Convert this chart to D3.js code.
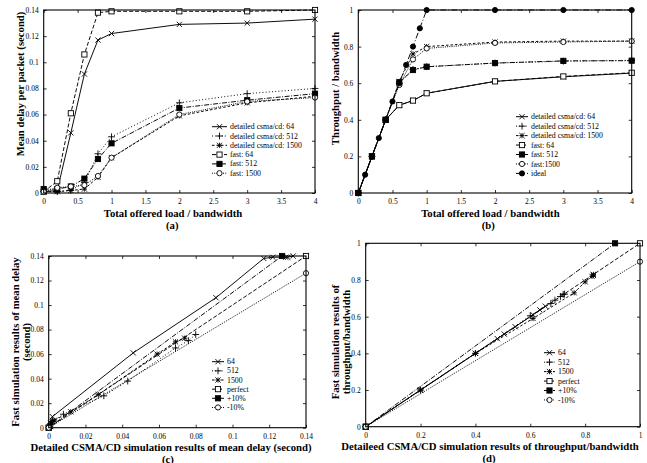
<!DOCTYPE html>
<html>
<head>
<meta charset="utf-8">
<script src="https://cdn.jsdelivr.net/npm/d3@7"></script>
<style>
  body { margin: 0; background: #fff; }
  svg text { font-family: "Liberation Serif", "Times New Roman", serif; fill: #000; }
  .title { font-size: 10.7px; font-weight: bold; }
  .leg { font-size: 7.8px; }
</style>
</head>
<body>
<div id="container"></div>
<script>
/* DATA */
const loadA = [0, 0.2, 0.4, 0.6, 0.8, 1, 2, 3, 4];
const delayDet64 = [0.001, 0.002, 0.046, 0.091, 0.117, 0.122, 0.129, 0.130, 0.133];
const delayDet512 = [0.001, 0.001, 0.002, 0.008, 0.030, 0.043, 0.069, 0.076, 0.080];
const delayDet1500 = [0.001, 0.001, 0.002, 0.003, 0.012, 0.027, 0.059, 0.069, 0.074];
const delayFast64 = [0.001, 0.009, 0.061, 0.106, 0.138, 0.139, 0.139, 0.139, 0.140];
const delayFast512 = [0.003, 0.003, 0.005, 0.011, 0.026, 0.038, 0.065, 0.071, 0.076];
const delayFast1500 = [0.001, 0.004, 0.005, 0.006, 0.013, 0.027, 0.060, 0.070, 0.073];

const loadB = [0, 0.2, 0.4, 0.6, 0.8, 1, 2, 3, 4];
const thrDet64 = [0, 0.2, 0.4, 0.48, 0.505, 0.545, 0.61, 0.635, 0.655];
const thrDet512 = [0, 0.2, 0.4, 0.60, 0.675, 0.69, 0.71, 0.72, 0.725];
const thrDet1500 = [0, 0.2, 0.4, 0.61, 0.76, 0.80, 0.825, 0.83, 0.83];
const thrFast64 = [0, 0.2, 0.4, 0.48, 0.505, 0.545, 0.61, 0.637, 0.657];
const thrFast512 = [0, 0.2, 0.4, 0.605, 0.672, 0.69, 0.71, 0.722, 0.723];
const thrFast1500 = [0, 0.2, 0.4, 0.59, 0.73, 0.79, 0.82, 0.825, 0.83];
const idealLoad = [0, 0.1, 0.2, 0.3, 0.4, 0.5, 0.6, 0.7, 0.8, 0.9, 1, 2, 3, 4];
const idealThr = [0, 0.1, 0.2, 0.3, 0.4, 0.5, 0.6, 0.7, 0.8, 0.9, 1, 1, 1, 1];

// reference lines for the comparison plots
const refDelayX = { perfect: [0, 0.14], plus10: [0, 0.127], minus10: [0, 0.14] };
const refDelayY = { perfect: [0, 0.14], plus10: [0, 0.14], minus10: [0, 0.126] };
const refThrX = { perfect: [0, 1], plus10: [0, 0.909], minus10: [0, 1] };
const refThrY = { perfect: [0, 1], plus10: [0, 1], minus10: [0, 0.9] };

/* CONSTANTS */
const width = 647, height = 463;
const fmt = d => String(+d.toFixed(3));
const dash = {
  solid: null, dotted: "1,2.2", shortdash: "2.5,2", dashed: "4,2",
  dashdot: "5,1.5,1,1.5", fine: "1,1.2", longdashdot: "6,2,1,2"
};

const svg = d3.select("#container").append("svg")
  .attr("width", width).attr("height", height);

function marker(g, type, x, y) {
  const s = 2.6;
  if (type === "x" || type === "*") {
    g.append("path").attr("d", `M${x - s},${y - s}L${x + s},${y + s}M${x - s},${y + s}L${x + s},${y - s}`)
      .attr("stroke", "#000").attr("stroke-width", 0.9);
  }
  if (type === "+" || type === "*") {
    const p = type === "*" ? s : s + 0.8;
    g.append("path").attr("d", `M${x - p},${y}L${x + p},${y}M${x},${y - p}L${x},${y + p}`)
      .attr("stroke", "#000").attr("stroke-width", 0.9);
  }
  if (type === "sq" || type === "fsq") {
    g.append("rect").attr("x", x - s).attr("y", y - s).attr("width", 2 * s).attr("height", 2 * s)
      .attr("fill", type === "fsq" ? "#000" : "#fff").attr("stroke", "#000").attr("stroke-width", 0.9);
  }
  if (type === "circ" || type === "fcirc") {
    g.append("circle").attr("cx", x).attr("cy", y).attr("r", s)
      .attr("fill", type === "fcirc" ? "#000" : "#fff").attr("stroke", "#000").attr("stroke-width", 0.9);
  }
}

function panel(cfg) {
  const g = svg.append("g");
  const xScale = d3.scaleLinear().domain(cfg.xDomain).range([cfg.left, cfg.right]);
  const yScale = d3.scaleLinear().domain(cfg.yDomain).range([cfg.bottom, cfg.top]);
  const xt = xScale.ticks(cfg.xN), yt = yScale.ticks(cfg.yN);

  // axes (inward ticks on all sides, gnuplot style)
  g.append("g").attr("transform", `translate(0,${cfg.bottom})`)
    .call(d3.axisBottom(xScale).tickValues(xt).tickFormat(fmt).tickSizeInner(-3).tickSizeOuter(0).tickPadding(6))
    .call(a => a.select(".domain").remove());
  g.append("g").attr("transform", `translate(0,${cfg.top})`)
    .call(d3.axisTop(xScale).tickValues(xt).tickFormat("").tickSizeInner(-3).tickSizeOuter(0))
    .call(a => a.select(".domain").remove());
  g.append("g").attr("transform", `translate(${cfg.left},0)`)
    .call(d3.axisLeft(yScale).tickValues(yt).tickFormat(fmt).tickSizeInner(-3).tickSizeOuter(0).tickPadding(5))
    .call(a => a.select(".domain").remove());
  g.append("g").attr("transform", `translate(${cfg.right},0)`)
    .call(d3.axisRight(yScale).tickValues(yt).tickFormat("").tickSizeInner(-3).tickSizeOuter(0))
    .call(a => a.select(".domain").remove());
  g.selectAll(".tick text").attr("font-size", 7.5).attr("font-family", "Liberation Serif");
  g.selectAll(".tick line").attr("stroke-width", 0.8);

  // series
  const line = d3.line().x(d => xScale(d[0])).y(d => yScale(d[1]));
  cfg.series.forEach(s => {
    const pts = s.x.map((v, i) => [v, s.y[i]]);
    g.append("path").datum(pts).attr("d", line)
      .attr("fill", "none").attr("stroke", "#000").attr("stroke-width", 0.95)
      .attr("stroke-dasharray", dash[s.dash]);
    pts.forEach(p => marker(g, s.mark, xScale(p[0]), yScale(p[1])));
  });

  // frame
  g.append("rect").attr("x", cfg.left).attr("y", cfg.top)
    .attr("width", cfg.right - cfg.left).attr("height", cfg.bottom - cfg.top)
    .attr("fill", "none").attr("stroke", "#000").attr("stroke-width", 1.1);

  // legend
  cfg.series.forEach((s, i) => {
    const y = cfg.legY + i * cfg.legStep;
    g.append("line").attr("x1", cfg.legX).attr("x2", cfg.legX + cfg.legW).attr("y1", y).attr("y2", y)
      .attr("stroke", "#000").attr("stroke-width", 1).attr("stroke-dasharray", dash[s.dash]);
    marker(g, s.mark, cfg.legX + cfg.legW / 2, y);
    g.append("text").attr("class", "leg").attr("x", cfg.legX + cfg.legW + 3).attr("y", y).attr("dy", "0.33em")
      .text(s.name);
  });

  // titles
  g.append("text").attr("class", "title").attr("x", cfg.xTitleCX).attr("y", cfg.xTitleY)
    .attr("text-anchor", "middle").text(cfg.xTitle);
  g.append("text").attr("class", "title").attr("x", cfg.tagCX).attr("y", cfg.tagY)
    .attr("text-anchor", "middle").text(cfg.tag);
  cfg.yTitle.forEach((t, i) => {
    g.append("text").attr("class", "title")
      .attr("transform", `translate(${cfg.yTitleX[i]},${cfg.yTitleCY}) rotate(-90)`)
      .attr("text-anchor", "middle").attr("dy", "0.35em").text(t);
  });
}

const pair = (a, b) => ({ x: a, y: b });

/* (a) */
panel({
  left: 43.7, right: 315, top: 10, bottom: 193,
  xDomain: [0, 4], yDomain: [0, 0.14], xN: 8, yN: 7,
  series: [
    { name: "detailed csma/cd: 64", x: loadA, y: delayDet64, dash: "solid", mark: "x" },
    { name: "detailed csma/cd: 512", x: loadA, y: delayDet512, dash: "dotted", mark: "+" },
    { name: "detailed csma/cd: 1500", x: loadA, y: delayDet1500, dash: "shortdash", mark: "*" },
    { name: "fast: 64", x: loadA, y: delayFast64, dash: "dashed", mark: "sq" },
    { name: "fast: 512", x: loadA, y: delayFast512, dash: "dashdot", mark: "fsq" },
    { name: "fast: 1500", x: loadA, y: delayFast1500, dash: "fine", mark: "circ" }
  ],
  legX: 212, legW: 15, legY: 126.7, legStep: 9.3,
  xTitle: "Total offered load / bandwidth", xTitleCX: 173, xTitleY: 217, tag: "(a)", tagCX: 172.3, tagY: 229,
  yTitle: ["Mean delay per packet (second)"], yTitleX: [20], yTitleCY: 84
});

/* (b) */
panel({
  left: 358.3, right: 631.7, top: 10, bottom: 193,
  xDomain: [0, 4], yDomain: [0, 1], xN: 8, yN: 5,
  series: [
    { name: "detailed csma/cd: 64", x: loadB, y: thrDet64, dash: "solid", mark: "x" },
    { name: "detailed csma/cd: 512", x: loadB, y: thrDet512, dash: "dotted", mark: "+" },
    { name: "detailed csma/cd: 1500", x: loadB, y: thrDet1500, dash: "shortdash", mark: "*" },
    { name: "fast: 64", x: loadB, y: thrFast64, dash: "dashed", mark: "sq" },
    { name: "fast: 512", x: loadB, y: thrFast512, dash: "dashdot", mark: "fsq" },
    { name: "fast:1500", x: loadB, y: thrFast1500, dash: "fine", mark: "circ" },
    { name: "ideal", x: idealLoad, y: idealThr, dash: "longdashdot", mark: "fcirc" }
  ],
  legX: 516, legW: 12, legY: 116.7, legStep: 9.45,
  xTitle: "Total offered load / bandwidth", xTitleCX: 490.4, xTitleY: 217, tag: "(b)", tagCX: 488.3, tagY: 229,
  yTitle: ["Throughput / bandwidth"], yTitleX: [335], yTitleCY: 88.5
});

/* (c) */
panel({
  left: 48.7, right: 306, top: 256, bottom: 427.7,
  xDomain: [0, 0.14], yDomain: [0, 0.14], xN: 7, yN: 7,
  series: [
    { name: "64", ...pair(delayDet64, delayFast64), dash: "solid", mark: "x" },
    { name: "512", ...pair(delayDet512, delayFast512), dash: "dotted", mark: "+" },
    { name: "1500", ...pair(delayDet1500, delayFast1500), dash: "shortdash", mark: "*" },
    { name: "perfect", x: refDelayX.perfect, y: refDelayY.perfect, dash: "dashed", mark: "sq" },
    { name: "+10%", x: refDelayX.plus10, y: refDelayY.plus10, dash: "dashdot", mark: "fsq" },
    { name: "-10%", x: refDelayX.minus10, y: refDelayY.minus10, dash: "fine", mark: "circ" }
  ],
  legX: 212, legW: 12, legY: 361.7, legStep: 9.15,
  xTitle: "Detailed CSMA/CD simulation results of mean delay (second)", xTitleCX: 171, xTitleY: 451,
  tag: "(c)", tagCX: 168, tagY: 462.5,
  yTitle: ["Fast simulation results of mean delay", "(second)"], yTitleX: [15, 26], yTitleCY: 342
});

/* (d) */
panel({
  left: 365.7, right: 640, top: 243.3, bottom: 426.7,
  xDomain: [0, 1], yDomain: [0, 1], xN: 5, yN: 5,
  series: [
    { name: "64", ...pair(thrDet64, thrFast64), dash: "solid", mark: "x" },
    { name: "512", ...pair(thrDet512, thrFast512), dash: "dotted", mark: "+" },
    { name: "1500", ...pair(thrDet1500, thrFast1500), dash: "shortdash", mark: "*" },
    { name: "perfect", x: refThrX.perfect, y: refThrY.perfect, dash: "dashed", mark: "sq" },
    { name: "+10%", x: refThrX.plus10, y: refThrY.plus10, dash: "dashdot", mark: "fsq" },
    { name: "-10%", x: refThrX.minus10, y: refThrY.minus10, dash: "fine", mark: "circ" }
  ],
  legX: 544, legW: 11, legY: 352.7, legStep: 9.45,
  xTitle: "Detaileed CSMA/CD simulation results of throughput/bandwidth", xTitleCX: 490, xTitleY: 450,
  tag: "(d)", tagCX: 489, tagY: 461.5,
  yTitle: ["Fast simulation results of", "throughput/bandwidth"], yTitleX: [335, 346], yTitleCY: 342
});
</script>
</body>
</html>
